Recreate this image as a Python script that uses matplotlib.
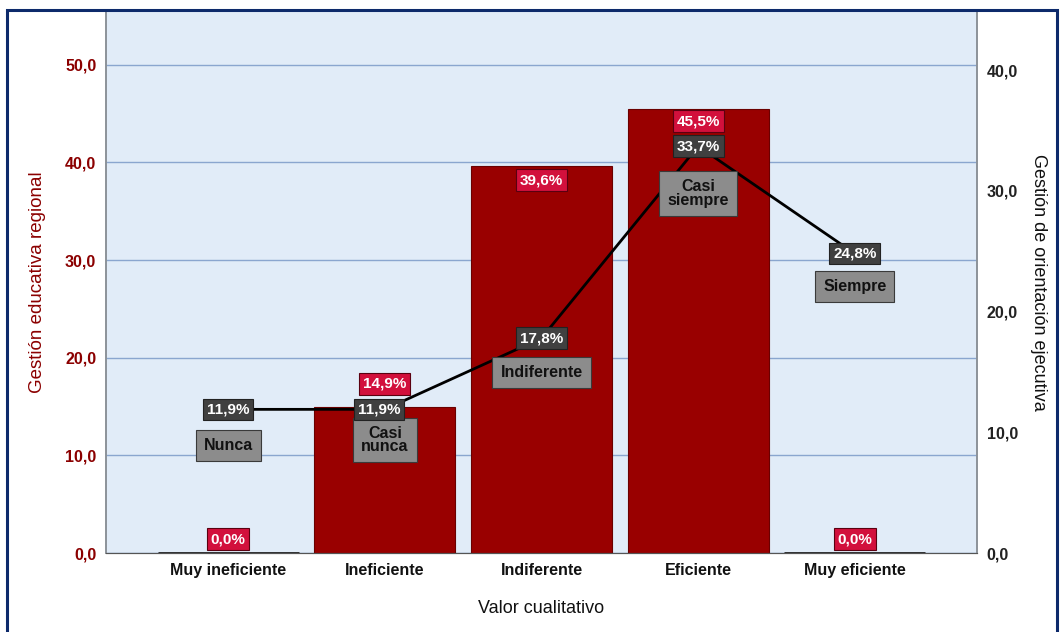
import matplotlib
matplotlib.use("Agg")
import matplotlib.pyplot as plt
from matplotlib.patches import Rectangle
from matplotlib import font_manager

plt.rcParams['font.family'] = ['Liberation Sans', 'DejaVu Sans']

_names = {f.name for f in font_manager.fontManager.ttflist}
NARROW = ['Liberation Sans Narrow', 'Liberation Sans', 'DejaVu Sans'] \
    if 'Liberation Sans Narrow' in _names else ['Liberation Sans', 'DejaVu Sans']

# Data
categories = ["Muy ineficiente", "Ineficiente", "Indiferente", "Eficiente", "Muy eficiente"]
gestion_educativa = [0.0, 14.9, 39.6, 45.5, 0.0]          # bars, left axis (%)
gestion_orientacion = [11.9, 11.9, 17.8, 33.7, 24.8]       # line, right axis (%)
line_levels = ["Nunca", "Casi\nnunca", "Indiferente", "Casi\nsiempre", "Siempre"]
left_ticks = [0, 10, 20, 30, 40, 50]
right_ticks = [0, 10, 20, 30, 40]

BAR = "#990000"
BG = "#e1ecf8"
GRID = "#8aa6cf"
RED_BOX = "#d2103c"
DARK_BOX = "#404040"
GRAY_BOX = "#8c8c8c"

def fmt(v):
    return f"{v:.1f}".replace(".", ",")

fig = plt.figure(figsize=(10.63, 6.32), dpi=100)

# outer frame
fig.patches.append(Rectangle((7 / 1063, -0.05), (1057 - 7) / 1063, 1 - 10 / 632 + 0.05,
                             transform=fig.transFigure, fill=False,
                             edgecolor="#0d2a6b", linewidth=2.2, zorder=10))

ax = fig.add_axes([106 / 1063, 1 - 553 / 632, (977 - 106) / 1063, (553 - 11) / 632])
ax2 = ax.twinx()

x = list(range(len(categories)))
ax.set_facecolor(BG)
ax.set_xlim(-0.78, len(categories) - 1 + 0.78)
ax.set_ylim(0, 55.5)
ax2.set_ylim(0, 44.9)

ax.set_axisbelow(True)
ax.yaxis.grid(True, color=GRID, linewidth=1.0)
ax.bar(x, gestion_educativa, width=0.9, color=BAR, edgecolor="#6a0000", linewidth=0.8, zorder=2)
# zero-height bars show as a thin dark line on the baseline
for xi, v in zip(x, gestion_educativa):
    if v == 0:
        ax.plot([xi - 0.45, xi + 0.45], [0, 0], color="#222222", lw=2, zorder=3,
                solid_capstyle="butt")

ax2.plot(x, gestion_orientacion, color="black", lw=2, zorder=3)

# ticks
ax.set_xticks(x)
ax.set_xticklabels(categories, fontsize=11.5, fontweight="bold", color="#111111", family=NARROW)
ax.set_yticks(left_ticks)
ax.set_yticklabels([fmt(t) for t in left_ticks], fontsize=11.5, fontweight="bold",
                   color="#8b0000", family=NARROW)
ax2.set_yticks(right_ticks)
ax2.set_yticklabels([fmt(t) for t in right_ticks], fontsize=11.5, fontweight="bold",
                    color="#222222", family=NARROW)
ax.tick_params(axis="both", length=0, pad=7)
ax2.tick_params(axis="y", length=0, pad=7)

for a in (ax, ax2):
    a.spines["top"].set_visible(False)
    a.spines["left"].set_color("#8c9299")
    a.spines["right"].set_color("#8c9299")
    a.spines["bottom"].set_color("#555555")
    a.spines["left"].set_linewidth(1.2)
    a.spines["right"].set_linewidth(1.2)

ax.set_xlabel("Valor cualitativo", fontsize=13, color="#111111", labelpad=16)
ax.set_ylabel("Gestión educativa regional", fontsize=13.5, color="#8b0000", labelpad=14)
ax2.set_ylabel("Gestión de orientación ejecutiva", fontsize=13, color="#111111",
               rotation=270, labelpad=21)

# value labels (offsets in points)
bar_offsets = [10, 17, -10, -9, 10]
line_dx = [0, -4, 0, 0, 0]
level_offsets = [-26, -22, -25, -34, -24]

for xi, v, dy in zip(x, gestion_educativa, bar_offsets):
    ax2.annotate(fmt(v) + "%", xy=(xi, v * ax2.get_ylim()[1] / ax.get_ylim()[1]),
                 xytext=(0, dy), textcoords="offset points", ha="center", va="center",
                 fontsize=11, fontweight="bold", color="white", zorder=6, family=NARROW,
                 bbox=dict(boxstyle="square,pad=0.25", fc=RED_BOX, ec="#5a0010", lw=0.8))

for xi, v, lab, dx, dy in zip(x, gestion_orientacion, line_levels, line_dx, level_offsets):
    ax2.annotate(lab, xy=(xi, v), xytext=(0, dy), textcoords="offset points",
                 ha="center", va="center", fontsize=11.5, fontweight="bold", color="#111111",
                 linespacing=0.85, zorder=5, family=NARROW,
                 bbox=dict(boxstyle="square,pad=0.5", fc=GRAY_BOX, ec="#3a3a3a", lw=0.8))
    ax2.annotate(fmt(v) + "%", xy=(xi, v), xytext=(dx, 0), textcoords="offset points",
                 ha="center", va="center", fontsize=11, fontweight="bold", color="white",
                 zorder=7, family=NARROW,
                 bbox=dict(boxstyle="square,pad=0.25", fc=DARK_BOX, ec="#222222", lw=0.8))

fig.savefig("out.png", dpi=100, facecolor="white")
